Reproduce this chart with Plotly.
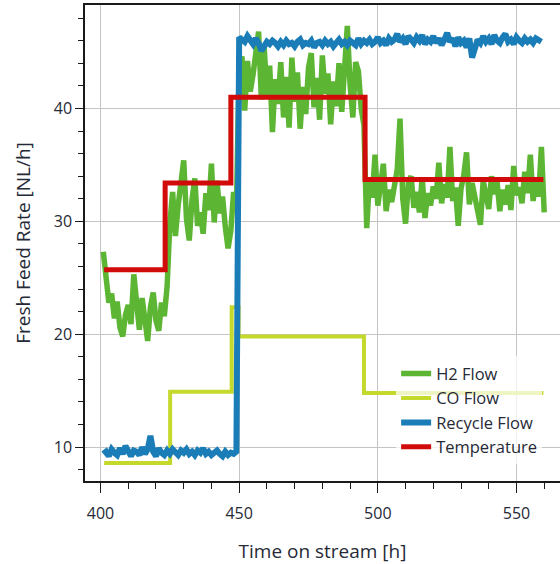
import plotly.graph_objects as go

# Time on stream [h] for the hourly logged flows
h2_start = 401
recycle_start = 401

# H2 fresh feed, logged hourly [NL/h]
h2_flow = [
    27.3, 24.5, 22.8, 23.6, 21.4, 22.9, 20.6, 19.8, 21.7, 22.6,
    20.9, 25.3, 22.1, 20.4, 23.2, 21.0, 19.4, 22.4, 23.7, 21.2,
    20.3, 22.8, 21.6, 24.2, 29.8, 32.6, 28.7, 31.4, 33.2, 35.4,
    30.2, 28.3, 31.9, 33.8, 29.6, 30.8, 28.9, 32.5, 31.0, 35.1,
    29.9, 33.6, 30.7, 32.2, 29.5, 27.6, 29.2, 32.6, 31.0, 43.8,
    44.6, 39.8, 44.2, 41.5, 43.0, 45.2, 46.8, 40.8, 45.5, 41.2,
    43.8, 37.9, 42.6, 40.4, 44.1, 39.2, 42.8, 38.3, 44.5, 40.6,
    43.2, 38.2, 41.9, 39.5, 43.6, 44.9, 40.1, 42.7, 39.0, 44.7,
    41.3, 43.1, 38.6, 42.4, 40.2, 44.0, 39.7, 43.5, 47.3, 42.1,
    39.2, 44.1, 43.3, 40.0, 38.5, 29.4, 33.8, 32.1, 35.9, 31.4,
    33.2, 35.1, 30.9, 32.8, 31.7, 33.5, 34.6, 39.1, 32.0, 29.8,
    33.4, 34.0, 31.2, 32.6, 30.8, 33.9, 30.3, 32.5, 31.4, 33.1,
    32.0, 35.2, 31.6, 33.3, 32.1, 36.6, 31.8, 33.0, 29.6, 32.9,
    34.1, 36.1, 31.5, 33.4, 32.0, 30.5, 29.7, 33.6, 32.2, 31.1,
    34.0, 32.4, 33.5, 30.9, 32.8, 31.5, 33.2, 31.0, 34.9, 32.3,
    33.0, 31.6, 34.4, 32.5, 35.9, 31.8, 33.7, 32.2, 36.6, 30.8,
]

# Recycle flow, logged hourly [NL/h]
recycle_flow = [
    9.4, 9.6, 9.2, 9.8, 9.5, 9.3, 9.9, 9.4, 10.1, 9.5,
    9.2, 9.7, 9.6, 9.3, 10.0, 9.4, 9.8, 11.0, 9.6, 9.2,
    9.9, 9.5, 9.3, 9.7, 9.4, 9.8, 9.6, 9.3, 9.7, 9.5,
    9.8, 9.4, 9.6, 9.3, 9.7, 9.5, 9.9, 9.4, 9.6, 9.3,
    9.5, 9.7, 9.4, 9.2, 9.6, 9.3, 9.5, 9.4, 9.6, 46.3,
    46.1, 45.9, 46.4, 46.0, 45.7, 46.2, 45.8, 45.1, 45.6, 45.9,
    45.7, 46.0, 45.8, 45.5, 45.9, 45.6, 46.0, 45.7, 45.8, 45.5,
    45.9, 46.1, 45.6, 45.8, 45.7, 46.0, 45.4, 45.8, 45.9, 45.6,
    46.0, 45.7, 45.9, 45.5, 45.8, 46.1, 45.7, 45.9, 45.6, 46.0,
    45.8, 45.6, 46.2, 45.7, 46.0, 45.8, 46.1, 45.7, 45.9, 46.3,
    45.8, 46.0, 45.6, 46.2, 45.9, 46.1, 46.6, 45.9, 46.2, 45.7,
    46.4, 46.0, 45.8, 46.3, 46.0, 46.5, 45.7, 46.1, 45.9, 46.4,
    45.8, 46.2, 45.6, 46.1, 46.7, 45.9, 46.2, 45.5, 46.3, 45.8,
    46.0, 45.4, 46.2, 44.5, 45.6, 46.1, 45.8, 46.4, 45.9, 46.2,
    45.7, 46.5, 46.0, 45.8, 46.3, 46.6, 45.9, 46.1, 45.7, 46.3,
    46.0, 45.8, 46.2, 45.9, 46.1, 45.8, 46.2, 46.0, 45.9,
]

# CO feed set points (step changes)
co_time = [401.3, 425.1, 447.3, 449.8, 495.0, 559.7]
co_flow = [8.6, 14.9, 22.4, 19.8, 14.8, 14.8]

# Temperature program, shown on the flow scale
temp_time = [401.3, 423.3, 447.0, 495.4, 559.7]
temp_level = [25.7, 33.4, 41.0, 33.7, 33.7]

x_ticks = [400, 450, 500, 550]
y_ticks = [10, 20, 30, 40]

h2_time = [h2_start + i for i in range(len(h2_flow))]
recycle_time = [recycle_start + i for i in range(len(recycle_flow))]

GREEN = "#5db534"
LIME = "#c5d82c"
BLUE = "#1a7db8"
RED = "#d10a0a"
TEXT = "#262a36"
FONT = "Open Sans, Noto Sans, sans-serif"

fig = go.Figure()
fig.add_trace(go.Scatter(x=h2_time, y=h2_flow, mode="lines", name="H2 Flow",
                         line=dict(color=GREEN, width=5.5)))
fig.add_trace(go.Scatter(x=co_time, y=co_flow, mode="lines", name="CO Flow",
                         line=dict(color=LIME, width=4, shape="hv")))
fig.add_trace(go.Scatter(x=recycle_time, y=recycle_flow, mode="lines",
                         name="Recycle Flow", line=dict(color=BLUE, width=6)))
fig.add_trace(go.Scatter(x=temp_time, y=temp_level, mode="lines",
                         name="Temperature",
                         line=dict(color=RED, width=5, shape="hv")))

axis_common = dict(
    showline=True, linecolor="#1a1a1a", linewidth=1.5,
    ticks="outside", tickwidth=1.3, tickcolor="#1a1a1a",
    showgrid=True, gridcolor="#c4c4c4", gridwidth=1,
    zeroline=False,
    tickfont=dict(family=FONT, size=16, color=TEXT),
)

fig.update_xaxes(
    **axis_common,
    ticklen=10, ticklabelstandoff=7,
    range=[394.4, 565.7], tickvals=x_ticks, mirror=True,
    minor=dict(dtick=10, tick0=400, ticks="outside", ticklen=6,
               tickwidth=1.2, tickcolor="#1a1a1a", showgrid=False),
    title=dict(text="Time on stream [h]", standoff=24,
               font=dict(family=FONT, size=19, color=TEXT)),
)
fig.update_yaxes(
    **axis_common,
    ticklen=8,
    range=[7.0, 49.16], tickvals=y_ticks,
    minor=dict(dtick=2, tick0=0, ticks="outside", ticklen=5,
               tickwidth=1.2, tickcolor="#1a1a1a", showgrid=False),
    title=dict(text="Fresh Feed Rate [NL/h]", standoff=18,
               font=dict(family=FONT, size=19, color=TEXT)),
)

fig.update_layout(
    width=560, height=564,
    margin=dict(l=85, r=0, t=5, b=83),
    plot_bgcolor="white", paper_bgcolor="white",
    showlegend=True,
    legend=dict(
        x=0.655, y=0.262, xanchor="left", yanchor="top",
        bgcolor="rgba(255,255,255,0.72)", borderwidth=0,
        font=dict(family=FONT, size=16.5, color=TEXT),
        tracegroupgap=0, itemwidth=30,
    ),
)

fig.write_html("out.html")
